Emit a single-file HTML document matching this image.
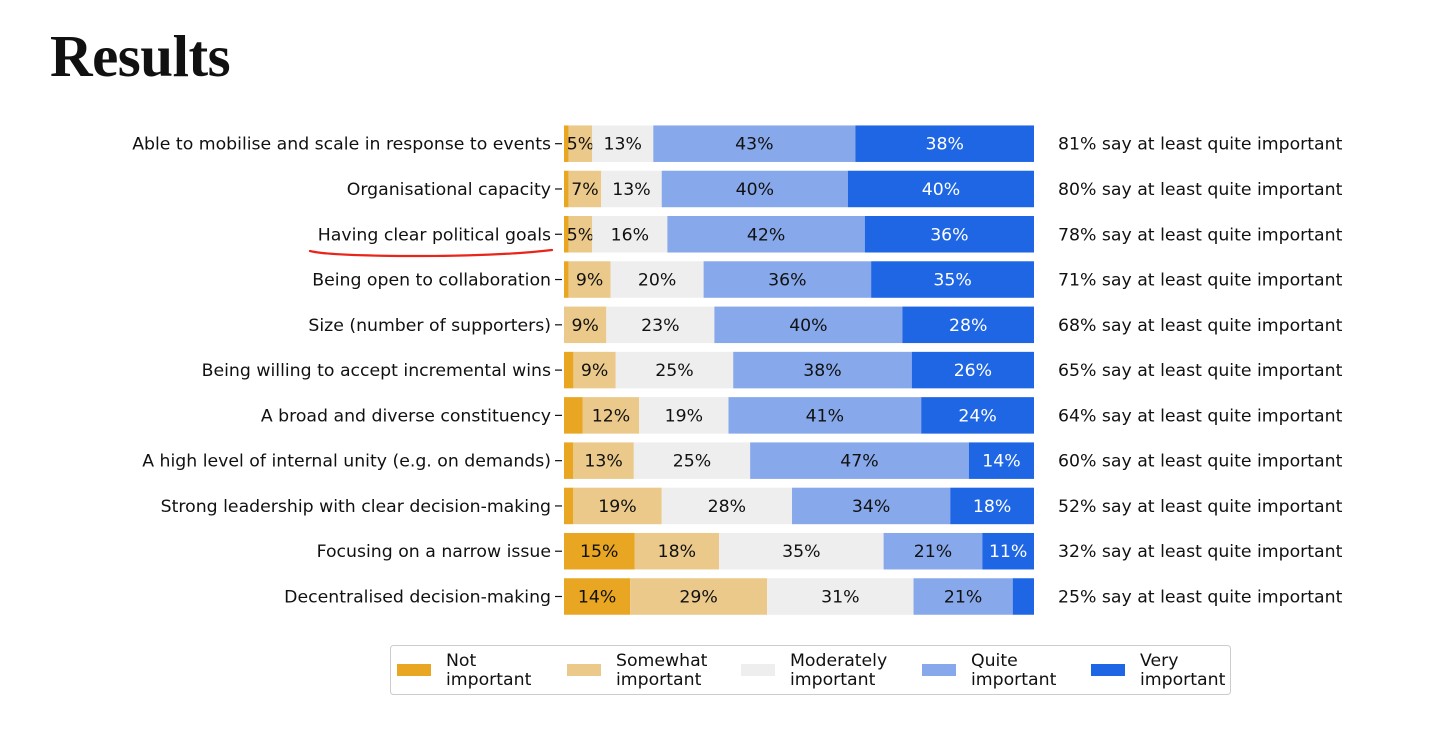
<!DOCTYPE html>
<html><head><meta charset="utf-8">
<style>
body{margin:0;background:#fff;width:1456px;height:749px;overflow:hidden;font-family:"DejaVu Sans","Liberation Sans",sans-serif;}
#title{position:absolute;left:50px;top:22px;font-family:"Liberation Serif",serif;font-weight:bold;font-size:59px;color:#111;letter-spacing:-0.5px;}
svg{position:absolute;left:0;top:0;}
</style></head>
<body>
<div id="title">Results</div>
<svg id="chart" width="1456" height="749"></svg>
<script>
const categories=["Able to mobilise and scale in response to events","Organisational capacity","Having clear political goals","Being open to collaboration","Size (number of supporters)","Being willing to accept incremental wins","A broad and diverse constituency","A high level of internal unity (e.g. on demands)","Strong leadership with clear decision-making","Focusing on a narrow issue","Decentralised decision-making"];
const notImportant=[1,1,1,1,0,2,4,2,2,15,14];
const somewhat=[5,7,5,9,9,9,12,13,19,18,29];
const moderately=[13,13,16,20,23,25,19,25,28,35,31];
const quite=[43,40,42,36,40,38,41,47,34,21,21];
const very=[38,40,36,35,28,26,24,14,18,11,4.5];
const atLeastQuite=[81,80,78,71,68,65,64,60,52,32,25];
const seriesNames=["Not important","Somewhat important","Moderately important","Quite important","Very important"];
const series=[notImportant,somewhat,moderately,quite,very];
const colors=["#E8A623","#EBC98A","#EEEEEE","#87A8EA","#1F66E5"];
const NS="http://www.w3.org/2000/svg";
const svg=document.getElementById('chart');
const x0=564,x1=1034,y0=143.7,step=45.28,bh=36.5,fs='17.3';
function xs(v){return (x1-x0)*v/100;}
function yc(i){return y0+i*step;}
function mk(tag,attrs){const e=document.createElementNS(NS,tag);for(const k in attrs)e.setAttribute(k,attrs[k]);svg.appendChild(e);return e;}
categories.forEach((c,i)=>{
  const total=series.reduce((s,a)=>s+a[i],0);
  let acc=0;
  const y=yc(i);
  const t=mk('text',{x:551,y:y+6,'text-anchor':'end','font-size':fs,fill:'#111'});
  t.textContent=c;
  
  
  const tk=mk('line',{x1:555,x2:562,y1:y,y2:y,stroke:'#111','stroke-width':1.2});
  
  
  series.forEach((s,j)=>{
    const v=s[i]*100/total;
    const bx=x0+xs(acc),w=xs(v);
    const r=mk('rect',{x:bx,y:y-bh/2,width:w,height:bh,fill:colors[j]});
    
    
    if(s[i]>=5){
      const l=mk('text',{x:bx+w/2,y:y+6,'text-anchor':'middle','font-size':fs,fill:j==4?'#fff':'#111'});
      l.textContent=Math.round(s[i])+'%';
      
      
    }
    acc+=v;
  });
  const a=mk('text',{x:1058,y:y+6,'font-size':fs,fill:'#111'});
  a.textContent=atLeastQuite[i]+'% say at least quite important';
  
  
});
const ul=mk('path',{d:'M310 251 Q330 256 420 256 Q500 256 552 250',stroke:'#e8251a','stroke-width':2.2,fill:'none','stroke-linecap':'round'});


const lg=mk('rect',{x:390.5,y:645.5,width:840,height:49,rx:3,fill:'#fff',stroke:'#ccc','stroke-width':1});


const lx=[397,567,741,922,1091];
const words=[["Not","important"],["Somewhat","important"],["Moderately","important"],["Quite","important"],["Very","important"]];
seriesNames.forEach((n,j)=>{
  const sw=mk('rect',{x:lx[j],y:664,width:34,height:12,fill:colors[j]});
  
  
  const t=mk('text',{x:lx[j]+49,y:666,'font-size':fs,fill:'#111'});
  
  
  words[j].forEach((w,k)=>{const ts=document.createElementNS(NS,'tspan');ts.setAttribute('x',lx[j]+49);ts.setAttribute('dy',k?19:0);ts.textContent=w;t.appendChild(ts);});
});
</script>
</body></html>
